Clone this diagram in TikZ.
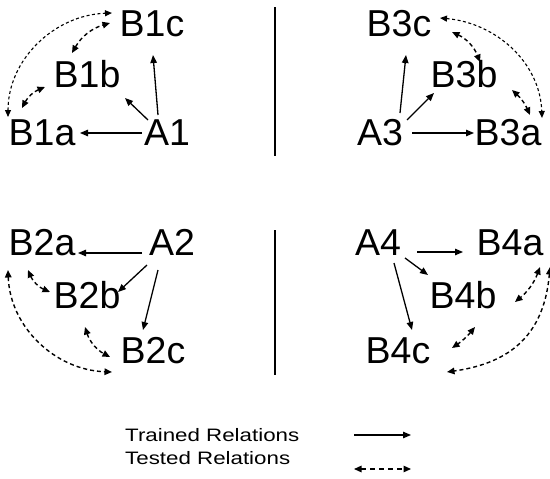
\documentclass[tikz,border=0pt]{standalone}
\usepackage{fontspec}
\setmainfont{Liberation Sans}
\usetikzlibrary{arrows.meta}
\tikzset{
  lbl/.style={inner sep=0pt, anchor=base, font=\fontsize{37.5}{40}\selectfont},
  leg/.style={inner sep=0pt, anchor=base west, font=\fontsize{18}{20}\selectfont},
  tr/.style={-{Triangle[length=8pt,width=6.5pt]}, line width=1.3pt},
  ts/.style={{Triangle[length=7.5pt,width=6.5pt]}-{Triangle[length=7.5pt,width=6.5pt]}, line width=1.4pt, dash pattern=on 4pt off 3pt},
  tsl/.style={{Triangle[length=7pt,width=6pt]}-{Triangle[length=7pt,width=6pt]}, line width=1.1pt, dash pattern=on 3pt off 2.5pt},
  sep/.style={line width=2.7pt}
}
\begin{document}
\begin{tikzpicture}[x=1pt,y=-1pt]
\useasboundingbox (0,0) rectangle (550,479);
% cluster 1
\node[lbl] (B1c) at (152,37) {B1c};
\node[lbl] (B1b) at (87,88) {B1b};
\node[lbl] (B1a) at (42,145) {B1a};
\node[lbl] (A1) at (167,145) {A1};
% cluster 3
\node[lbl] (B3c) at (399,37) {B3c};
\node[lbl] (B3b) at (464,88) {B3b};
\node[lbl] (A3) at (380,145) {A3};
\node[lbl] (B3a) at (508,145) {B3a};
% cluster 2
\node[lbl] (B2a) at (42,255) {B2a};
\node[lbl] (A2) at (172,255) {A2};
\node[lbl] (B2b) at (87,308) {B2b};
\node[lbl] (B2c) at (153,363) {B2c};
% cluster 4
\node[lbl] (A4) at (378,255) {A4};
\node[lbl] (B4a) at (510,255) {B4a};
\node[lbl] (B4b) at (463,308) {B4b};
\node[lbl] (B4c) at (398,363) {B4c};
% separators
\draw[sep] (275,7) -- (275,156);
\draw[sep] (275,230) -- (275,375);
% cluster 1 connectors
\draw[tr] ([shift={(-25,-12)}]A1.base) -- ([shift={(38,-12)}]B1a.base);
\draw[tr] ([shift={(-19,-25)}]A1.base) -- ([shift={(38,10)}]B1b.base);
\draw[tr] ([shift={(-9,-30)}]A1.base) -- ([shift={(1,18)}]B1c.base);
\draw[ts] ([shift={(-20,-37)}]B1a.base) to[bend left=20] ([shift={(-42,-1)}]B1b.base);
\draw[ts] ([shift={(-15,-35)}]B1b.base) to[bend left=22] ([shift={(-42,-14)}]B1c.base);
\draw[tsl] ([shift={(-34,-28)}]B1a.base) to[out=90,in=182] ([shift={(-40,-24)}]B1c.base);
% cluster 3 connectors
\draw[tr] ([shift={(20,-32)}]A3.base) -- ([shift={(7,18)}]B3c.base);
\draw[tr] ([shift={(27,-25)}]A3.base) -- ([shift={(-30,5)}]B3b.base);
\draw[tr] ([shift={(32,-12)}]A3.base) -- ([shift={(-34,-12)}]B3a.base);
\draw[ts] ([shift={(53,-5)}]B3c.base) to[bend left=22] ([shift={(16,-26)}]B3b.base);
\draw[ts] ([shift={(48,2)}]B3b.base) to[bend left=12] ([shift={(22,-30)}]B3a.base);
\draw[tsl] ([shift={(41,-19)}]B3c.base) to[out=-5,in=92] ([shift={(34,-27)}]B3a.base);
% cluster 2 connectors
\draw[tr] ([shift={(-30,-2)}]A2.base) -- ([shift={(36,-2)}]B2a.base);
\draw[tr] ([shift={(-25,10)}]A2.base) -- ([shift={(31,-16)}]B2b.base);
\draw[tr] ([shift={(-14,15)}]A2.base) -- ([shift={(-10,-33)}]B2c.base);
\draw[ts] ([shift={(-14,15)}]B2a.base) to[bend right=22] ([shift={(-37,-16)}]B2b.base);
\draw[ts] ([shift={(-2,19)}]B2b.base) to[bend right=22] ([shift={(-43,-6)}]B2c.base);
\draw[ts] ([shift={(-34,15)}]B2a.base) to[out=-88,in=178] ([shift={(-41,9)}]B2c.base);
% cluster 4 connectors
\draw[tr] ([shift={(39,-3)}]A4.base) -- ([shift={(-47,-3)}]B4a.base);
\draw[tr] ([shift={(27,3)}]A4.base) -- ([shift={(-35,-33)}]B4b.base);
\draw[tr] ([shift={(16,8)}]A4.base) -- ([shift={(14,-33)}]B4c.base);
\draw[ts] ([shift={(30,12)}]B4a.base) to[bend left=15] ([shift={(52,-6)}]B4b.base);
\draw[ts] ([shift={(12,19)}]B4b.base) to[bend left=8] ([shift={(54,-15)}]B4c.base);
\draw[ts] ([shift={(40,12)}]B4a.base) to[out=-95,in=8,looseness=1.15] ([shift={(49,9)}]B4c.base);
% legend
\node[leg] (trl) at (125,441) {\scalebox{1.24}[1]{Trained Relations}};
\node[leg] (tsl) at (125,464) {\scalebox{1.24}[1]{Tested Relations}};
\coordinate (l1s) at (354,435);
\coordinate (l1e) at (411,435);
\coordinate (l2s) at (354,469);
\coordinate (l2e) at (411,469);
\draw[tr] (l1s) -- (l1e);
\draw[ts, line width=1.3pt, dash pattern=on 5pt off 4pt] (l2s) -- (l2e);
\end{tikzpicture}
\end{document}
